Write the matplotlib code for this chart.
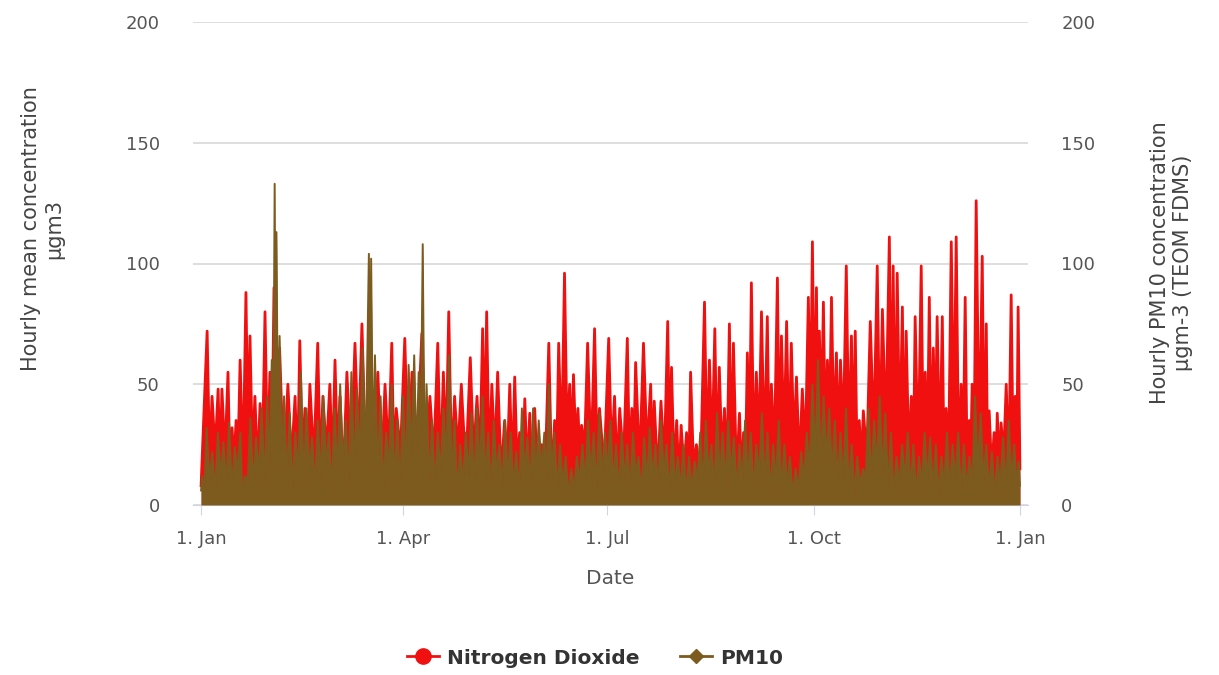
import numpy as np
import matplotlib
matplotlib.use("Agg")
import matplotlib.pyplot as plt
from matplotlib.lines import Line2D

# 图形设定
plt.rcParams['font.family'] = ['DejaVu Sans']

# ---- data (day of year, value) ----
# Nitrogen Dioxide: spike tops
no2_peak_day = [2.7, 4.9, 7.6, 9.3, 12, 13.8, 15.6, 17.4, 20, 21.8,
                24, 26.3, 28.5, 30.7, 32.5, 35, 38.7, 41.9, 44, 46.3,
                48.5, 52, 54.3, 57.4, 59.7, 61.9, 65, 68.6, 71.7, 75.2,
                78.8, 82, 85, 87, 90.8, 94, 98.4, 102, 105.5, 108,
                110.4, 113, 116, 120, 123, 125.5, 127.3, 129.6, 132.2, 135.3,
                137.6, 139.8, 142, 144.3, 146.5, 148.7, 151.8, 155, 157.6, 159.4,
                162, 164.3, 166, 168, 169.6, 172.3, 175.4, 177.6, 181.7, 184.3,
                186.6, 190, 192, 193.7, 197.2, 200.4, 202, 205, 208, 209.7,
                212, 214, 216.4, 218.2, 220.8, 224.4, 226.6, 229, 231, 233.3,
                235.5, 237.3, 240, 241.8, 243.5, 245.3, 247.5, 249.8, 252.4, 254.2,
                256.9, 258.7, 261, 263.1, 265.4, 268, 270.7, 272.5, 274.3, 275.6,
                277.4, 279.2, 281, 283.2, 285, 287.6, 289.9, 291.6, 293.4, 295.2,
                298.3, 301.4, 303.7, 306.8, 308.5, 310.3, 312.6, 314.3, 316.6, 318.3,
                321, 322.8, 324.6, 326.4, 328.1, 330.4, 332.1, 334.4, 336.6, 338.8,
                340.6, 342.4, 343.7, 345.5, 348.2, 350, 351.3, 353.5, 354.9, 356.6,
                358.9, 361.1, 362.9, 364.2]
no2_peak = [72, 45, 48, 48, 55, 32, 35, 60, 88, 70,
            45, 42, 80, 55, 90, 65, 50, 45, 68, 40,
            50, 67, 45, 50, 60, 45, 55, 67, 75, 60,
            55, 50, 67, 40, 69, 55, 71, 45, 67, 55,
            80, 45, 50, 61, 45, 73, 80, 50, 55, 35,
            50, 53, 30, 44, 38, 40, 25, 67, 35, 67,
            96, 50, 54, 40, 33, 67, 73, 40, 69, 45,
            40, 69, 40, 59, 67, 50, 43, 43, 76, 57,
            35, 33, 30, 55, 25, 84, 60, 73, 57, 40,
            75, 67, 38, 30, 63, 92, 55, 80, 78, 50,
            94, 70, 76, 67, 53, 48, 86, 109, 90, 72,
            84, 60, 86, 63, 60, 99, 70, 72, 35, 39,
            76, 99, 81, 111, 99, 96, 82, 72, 45, 78,
            99, 55, 86, 65, 78, 78, 40, 109, 111, 50,
            86, 35, 50, 126, 103, 75, 39, 30, 38, 34,
            50, 87, 45, 82]
# floor of the dense hourly band between the spikes
no2_low = [18, 22, 15, 20, 12, 18, 22, 14, 28, 20,
           15, 22, 18, 25, 20, 14, 18, 12, 20, 15,
           18, 14, 22, 16, 20, 12, 18, 24, 16, 20,
           14, 20, 16, 22, 15, 22, 18, 20, 14, 22,
           16, 22, 14, 20, 18, 25, 15, 20, 12, 16,
           12, 16, 8, 14, 10, 6, 14, 10, 18, 22,
           28, 22, 26, 20, 24, 18, 22, 15, 20, 14,
           18, 14, 20, 16, 22, 15, 12, 18, 20, 14,
           10, 14, 8, 16, 12, 20, 22, 16, 20, 14,
           18, 12, 10, 16, 22, 18, 24, 20, 16, 22,
           18, 26, 20, 24, 16, 22, 30, 32, 28, 35,
           26, 32, 28, 22, 30, 24, 20, 12, 16, 20,
           28, 22, 30, 25, 18, 24, 16, 20, 12, 18,
           24, 16, 20, 26, 18, 10, 22, 28, 16, 20,
           12, 18, 24, 20, 12, 8, 14, 10, 16, 20,
           12, 18, 10]
no2_start, no2_end = 8, 15

# PM10: spike tops
pm_peak_day = [0.5, 2.5, 5, 7.5, 10, 12.5, 15, 17.5, 19.5, 22,
               24.5, 27, 29.5, 31.5, 32.8, 33.6, 35, 37, 39.5, 42,
               44.5, 47, 49.5, 52, 54.5, 57, 59.5, 62, 64.5, 67,
               69.5, 72, 74.8, 75.8, 77.5, 80, 82.5, 85, 87.5, 90,
               92.5, 95, 97, 98.8, 100.5, 103, 105.5, 108, 110.5, 113,
               115.5, 118, 120.5, 123, 125.5, 128, 130.5, 133, 135.5, 138,
               140.5, 143, 145.5, 148, 150.5, 153, 155, 157.5, 160, 162.5,
               165, 167.5, 170, 172.5, 175, 177.5, 180, 182.5, 185, 187.5,
               190, 192.5, 195, 197.5, 200, 202.5, 205, 207.5, 210, 212.5,
               215, 217.5, 220, 222.5, 225, 227.5, 230, 232.5, 235, 237.5,
               240, 242.5, 245, 247.5, 250, 252.5, 255, 257.5, 260, 262.5,
               265, 267.5, 270, 272.5, 275, 277.5, 280, 282.5, 285, 287.5,
               290, 292.5, 295, 297.5, 300, 302.5, 305, 307.5, 310, 312.5,
               315, 317.5, 320, 322.5, 325, 327.5, 330, 332.5, 335, 337.5,
               340, 342.5, 345, 347.5, 350, 352.5, 355, 357.5, 360, 362.5,
               364.5]
pm_peak = [12, 32, 22, 30, 26, 34, 24, 30, 12, 36,
           28, 40, 45, 60, 133, 113, 70, 45, 38, 30,
           55, 40, 28, 35, 45, 30, 40, 50, 35, 55,
           48, 65, 104, 102, 62, 45, 30, 50, 35, 45,
           58, 62, 55, 108, 50, 35, 30, 40, 62, 35,
           25, 30, 38, 40, 45, 30, 35, 25, 35, 30,
           22, 40, 28, 40, 35, 30, 50, 30, 25, 20,
           15, 20, 25, 35, 30, 38, 30, 35, 25, 30,
           25, 30, 20, 28, 32, 25, 35, 25, 30, 20,
           25, 20, 18, 30, 35, 25, 38, 30, 35, 28,
           25, 35, 30, 25, 38, 30, 25, 35, 25, 20,
           15, 22, 30, 50, 60, 45, 40, 35, 30, 40,
           25, 20, 15, 40, 35, 45, 38, 30, 20, 25,
           30, 25, 20, 30, 28, 25, 20, 30, 25, 30,
           25, 20, 45, 38, 25, 22, 20, 28, 35, 25,
           18]
pm_low = [6, 10, 5, 12, 8, 6, 14, 2, 10, 8,
          12, 8, 14, 18, 30, 25, 14, 10, 6, 12,
          8, 14, 6, 10, 15, 5, 12, 16, 8, 14,
          18, 20, 35, 18, 12, 6, 15, 8, 5, 14,
          18, 20, 25, 15, 8, 6, 12, 18, 10, 4,
          8, 12, 6, 14, 10, 4, 12, 6, 10, 8,
          4, 12, 6, 10, 14, 8, 12, 6, 8, 4,
          6, 10, 8, 12, 6, 10, 14, 8, 4, 10,
          6, 12, 4, 8, 10, 6, 12, 4, 8, 6,
          4, 6, 10, 8, 12, 6, 10, 8, 12, 6,
          8, 10, 6, 12, 8, 4, 10, 6, 8, 4,
          6, 10, 14, 20, 15, 18, 12, 10, 8, 6,
          4, 8, 12, 10, 15, 12, 6, 4, 8, 10,
          6, 4, 8, 10, 6, 4, 8, 6, 10, 4,
          6, 8, 15, 10, 6, 4, 8, 6, 10, 8]
pm_start, pm_end = 6, 8

month_ticks = [0, 90, 181, 273, 365]
month_labels = ["1. Jan", "1. Apr", "1. Jul", "1. Oct", "1. Jan"]


def zigzag(peak_day, peak, low, start, end):
    # spike, low, spike, low ... like the hourly trace
    d = np.asarray(peak_day, float)
    mids = (d[:-1] + d[1:]) / 2
    xs = [0]
    ys = [start]
    for i in range(len(d)):
        xs.append(d[i]); ys.append(peak[i])
        if i < len(mids):
            xs.append(mids[i]); ys.append(low[i])
    xs.append(365); ys.append(end)
    return np.array(xs), np.array(ys)


no2_x, no2_y = zigzag(no2_peak_day, no2_peak, no2_low, no2_start, no2_end)
pm_x, pm_y = zigzag(pm_peak_day, pm_peak, pm_low, pm_start, pm_end)

RED = "#f01010"
BROWN = "#7d5a1e"
GRID = "#d8d8d8"
AXC = "#ccd6eb"
TXT = "#555555"
TTL = "#444444"

fig = plt.figure(figsize=(12.19, 6.75), dpi=100)
ax = fig.add_axes([193/1219, 1-505/675, (1028-193)/1219, 483/675])
ax2 = ax.twinx()

# dense hourly trace: the band under the trace is filled in the same colour
ax.fill_between(no2_x, 0, no2_y, color=RED, lw=0, zorder=2)
ax.plot(no2_x, no2_y, color=RED, lw=2.0, zorder=2)
ax2.fill_between(pm_x, 0, pm_y, color=BROWN, lw=0, zorder=3)
ax2.plot(pm_x, pm_y, color=BROWN, lw=1.4, zorder=3)

for a in (ax, ax2):
    a.set_xlim(-3.6, 368.6)
    a.set_ylim(0, 200)
    a.set_yticks([0, 50, 100, 150, 200])
    for s in a.spines.values():
        s.set_visible(False)
ax.spines['bottom'].set_visible(True)
ax.spines['bottom'].set_color(AXC)
ax.yaxis.grid(True, color=GRID, lw=1.2)
ax.set_axisbelow(True)

ax.set_xticks(month_ticks)
ax.set_xticklabels(month_labels)
ax.tick_params(axis='x', length=7, color=AXC, labelsize=13, labelcolor=TXT, pad=11)
ax.tick_params(axis='y', length=0, labelsize=13, labelcolor=TXT, pad=24)
ax2.tick_params(axis='y', length=0, labelsize=13, labelcolor=TXT, pad=24)

ax.set_xlabel("Date", fontsize=14.5, color=TXT, labelpad=15)
ax.set_ylabel("Hourly mean concentration\nµgm3", fontsize=15, color=TTL)
ax.yaxis.set_label_coords((64 - 193) / 835, (505 - 229) / 483)
ax2.set_ylabel("Hourly PM10 concentration\nµgm-3 (TEOM FDMS)", fontsize=15, color=TTL,
               rotation=90)
ax2.yaxis.set_label_coords((1150 - 193) / 835, (505 - 263) / 483)

handles = [Line2D([], [], color=RED, lw=2, marker='o', markersize=11),
           Line2D([], [], color=BROWN, lw=2, marker='D', markersize=7)]
leg = fig.legend(handles, ["Nitrogen Dioxide", "PM10"], loc='center',
                 bbox_to_anchor=(595 / 1219, 1 - 658 / 675), ncol=2, frameon=False,
                 prop={'size': 14.5, 'weight': 'bold'}, handlelength=1.6,
                 handletextpad=0.4, columnspacing=2.0)
for t in leg.get_texts():
    t.set_color("#333333")

plt.savefig("out.png", dpi=100)
